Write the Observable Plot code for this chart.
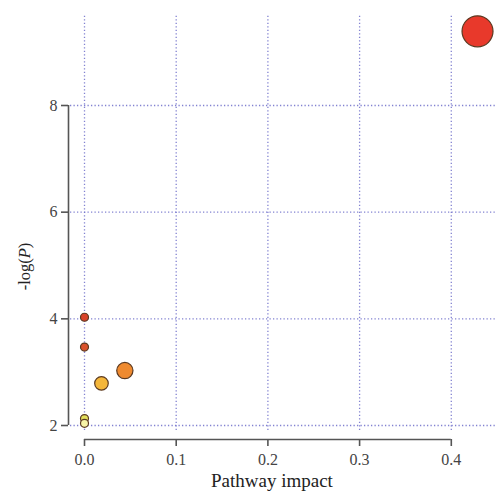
<!DOCTYPE html>
<html>
<head>
<meta charset="utf-8">
<script src="https://cdn.jsdelivr.net/npm/d3@7"></script>
<script src="https://cdn.jsdelivr.net/npm/@observablehq/plot@0.6"></script>
<style>
  html, body { margin: 0; padding: 0; background: #ffffff; }
  #chart svg { display: block; background: #fdfbf9; box-shadow: inset 7px 10px 0 #ffffff; }
</style>
</head>
<body>
<div id="chart"></div>
<script>
// Data
const pathwayIds = ["pw1", "pw2", "pw3", "pw4", "pw5", "pw6", "pw7"];
const impact = [0.4286, 0, 0, 0.044, 0.0185, 0, 0];
const logP = [9.39, 4.03, 3.47, 3.03, 2.79, 2.13, 2.04];
const xTicks = [0, 0.1, 0.2, 0.3, 0.4];
const yTicks = [2, 4, 6, 8];
const xLabel = "Pathway impact";
const yLabel = "-log(P)";

const data = pathwayIds.map((id, i) => ({id, impact: impact[i], logP: logP[i]}));

const xMin = -0.01745, xMax = 0.4493;
const yMin = 1.7375, yMax = 9.6875;
const gridColor = "#7474cc";
const axisColor = "#555555";

const plot = Plot.plot({
  width: 496,
  height: 492,
  marginLeft: 68,
  marginRight: 0,
  marginTop: 15,
  marginBottom: 53,
  style: {fontFamily: "'Liberation Serif', 'Times New Roman', serif", fontSize: "16px", color: "#444444", background: "transparent"},
  x: {domain: [xMin, xMax], axis: null},
  y: {domain: [yMin, yMax], axis: null},
  r: {type: "pow", exponent: 0.45, domain: [0, d3.max(impact)], range: [4, 15.5]},
  color: {
    type: "linear",
    domain: [2.04, 2.13, 2.79, 3.03, 3.47, 4.03, 9.39],
    range: ["#f7f4a8", "#e2df5c", "#f4b63a", "#ef8a2f", "#da522c", "#d8432a", "#e8392b"]
  },
  marks: [
    // dotted grid
    Plot.ruleX(xTicks, {x: d => d, y1: 1.906, y2: yMax, stroke: gridColor, strokeWidth: 1.3, strokeDasharray: "1.3,2.2", strokeOpacity: 0.9}),
    Plot.ruleY(yTicks, {y: d => d, x1: -0.0153, x2: xMax, stroke: gridColor, strokeWidth: 1.3, strokeDasharray: "1.3,2.2", strokeOpacity: 0.9}),
    // axis lines
    Plot.ruleX([xMin], {y1: yTicks[0], y2: yTicks[yTicks.length - 1], stroke: axisColor, strokeWidth: 1.6}),
    Plot.ruleY([yMin], {x1: xTicks[0], x2: xTicks[xTicks.length - 1], stroke: axisColor, strokeWidth: 1.6}),
    Plot.axisY({ticks: yTicks, tickSize: 7, tickPadding: 4, label: null, stroke: axisColor, strokeWidth: 1.6, fontSize: 16}),
    Plot.axisX({ticks: xTicks, tickSize: 7, tickPadding: 7, tickFormat: d3.format(".1f"), label: null, stroke: axisColor, strokeWidth: 1.6, fontSize: 16}),
    // points
    Plot.dot(data, {x: "impact", y: "logP", r: "impact", fill: "logP", stroke: "#5b3a22", strokeWidth: 1.2}),
    // axis titles
    Plot.text([xLabel], {x: () => 0.2, frameAnchor: "bottom", textAnchor: "middle", dy: 47, dx: 4, text: d => d, fontSize: 19, fill: "#222"}),
    Plot.text([yLabel], {y: () => 5, frameAnchor: "left", textAnchor: "middle", lineAnchor: "middle", dx: -44, dy: 1, rotate: -90, text: d => d, fontSize: 16.5, fill: "#222"})
  ]
});

// italic P in the y title
d3.select(plot).selectAll("text").filter(function () { return this.textContent === yLabel; }).each(function () {
  const t = d3.select(this);
  t.text("");
  t.append("tspan").text("-log(");
  t.append("tspan").attr("font-style", "italic").text("P");
  t.append("tspan").text(")");
});

document.getElementById("chart").appendChild(plot);
</script>
</body>
</html>
